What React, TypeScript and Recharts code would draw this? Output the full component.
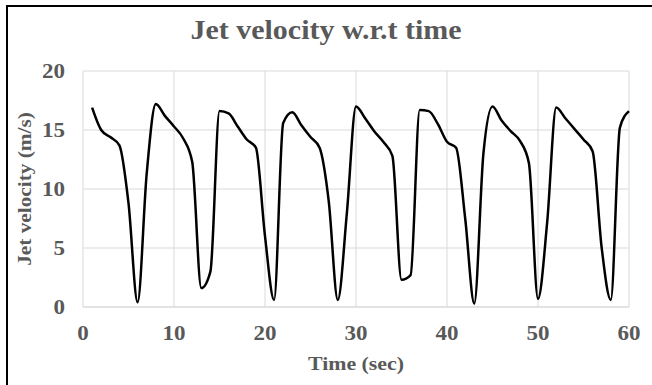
import { LineChart, Line, XAxis, YAxis, CartesianGrid } from 'recharts';

const times = [
  1, 2, 3, 4, 5, 6, 7, 8, 9, 10, 11, 12, 13, 14, 15, 16, 17, 18, 19, 20,
  21, 22, 23, 24, 25, 26, 27, 28, 29, 30, 31, 32, 33, 34, 35, 36, 37, 38, 39, 40,
  41, 42, 43, 44, 45, 46, 47, 48, 49, 50, 51, 52, 53, 54, 55, 56, 57, 58, 59, 60,
];

const velocity = [
  16.9, 15.0, 14.4, 13.7, 8.8, 0.4, 11.3, 17.2, 16.2, 15.3,
  14.3, 12.3, 1.6, 3.0, 16.6, 16.4, 15.3, 14.2, 13.5, 6.0,
  0.6, 15.6, 16.5, 15.4, 14.4, 13.5, 9.0, 0.6, 8.0, 17.0,
  16.0, 14.9, 14.0, 12.8, 2.3, 2.7, 16.7, 16.6, 15.5, 14.0,
  13.5, 7.5, 0.3, 13.0, 17.0, 15.8, 14.9, 14.1, 12.2, 0.7,
  7.1, 16.9, 16.0, 15.1, 14.2, 13.2, 5.0, 0.6, 15.2, 16.6,
];

const xTicks = [0, 10, 20, 30, 40, 50, 60];
const yTicks = [0, 5, 10, 15, 20];

const data = times.map((t, i) => ({ t, v: velocity[i] }));

const textGray = '#595959';
const font = '"Liberation Serif", "Times New Roman", serif';

// tick text in the source is a little wider than Liberation Serif
const XTick = ({ x, y, payload }: any) => (
  <g transform={`translate(${x},${y})`}>
    <text
      transform="scale(1.15,1)"
      textAnchor="middle"
      dy="0.71em"
      fill={textGray}
      fontSize={20}
      fontWeight="bold"
      fontFamily={font}
    >
      {payload.value}
    </text>
  </g>
);

const YTick = ({ x, y, payload }: any) => (
  <g transform={`translate(${x},${y})`}>
    <text
      transform="scale(1.15,1)"
      textAnchor="end"
      dy="0.355em"
      fill={textGray}
      fontSize={20}
      fontWeight="bold"
      fontFamily={font}
    >
      {payload.value}
    </text>
  </g>
);

export default function App() {
  return (
    <div
      style={{
        position: 'absolute',
        left: 0,
        top: 0,
        width: 652,
        height: 385,
        background: '#fff',
        overflow: 'hidden',
        fontFamily: font,
      }}
    >
      <div
        style={{
          position: 'absolute',
          left: 6,
          top: 5,
          width: 700,
          height: 420,
          borderTop: '2px solid #000',
          borderLeft: '2px solid #000',
        }}
      />
      <div
        style={{
          position: 'absolute',
          left: 0,
          width: 652,
          top: 12,
          textAlign: 'center',
          fontSize: 28,
          fontWeight: 'bold',
          color: textGray,
          lineHeight: '36px',
          transform: 'scaleX(1.07)',
        }}
      >
        Jet velocity w.r.t time
      </div>
      <div
        style={{
          position: 'absolute',
          left: 356 - 100,
          width: 200,
          top: 352,
          textAlign: 'center',
          fontSize: 19,
          fontWeight: 'bold',
          color: textGray,
          lineHeight: '24px',
          transform: 'scaleX(1.15)',
        }}
      >
        Time (sec)
      </div>
      <div
        style={{
          position: 'absolute',
          left: 25 - 100,
          top: 189 - 12,
          width: 200,
          textAlign: 'center',
          fontSize: 19,
          fontWeight: 'bold',
          color: textGray,
          lineHeight: '24px',
          transform: 'rotate(-90deg) scaleX(1.12)',
        }}
      >
        Jet velocity (m/s)
      </div>
      <div style={{ position: 'absolute', left: 0, top: 0 }}>
        <LineChart
          width={652}
          height={385}
          data={data}
          margin={{ top: 71, right: 23, bottom: 33, left: 23 }}
        >
          <CartesianGrid stroke="#d9d9d9" strokeWidth={1} />
          <XAxis
            dataKey="t"
            type="number"
            domain={[0, 60]}
            ticks={xTicks}
            height={45}
            tickLine={false}
            axisLine={{ stroke: '#d9d9d9' }}
            tickSize={0}
            tickMargin={19}
            tick={<XTick />}
          />
          <YAxis
            type="number"
            domain={[0, 20]}
            ticks={yTicks}
            width={60}
            tickLine={false}
            axisLine={false}
            tickSize={0}
            tickMargin={18}
            tick={<YTick />}
          />
          <Line
            type="monotone"
            dataKey="v"
            stroke="#000"
            strokeWidth={2.5}
            dot={false}
            isAnimationActive={false}
          />
        </LineChart>
      </div>
    </div>
  );
}
